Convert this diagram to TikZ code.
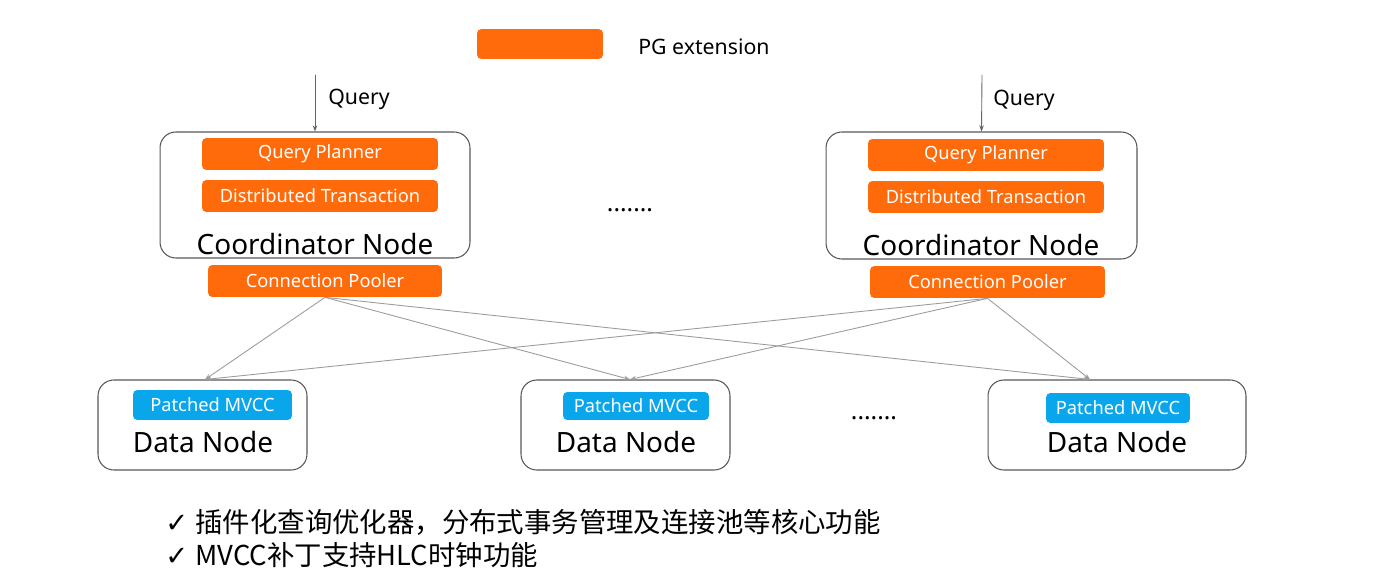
\documentclass[tikz,border=0pt]{standalone}
\usepackage{fontspec}
\setmainfont{Noto Sans}
\newfontfamily\cjk{Noto Sans CJK SC}
\newfontfamily\symb{DejaVu Sans}
\usepackage{xcolor}
\usetikzlibrary{arrows.meta,calc,positioning}
\definecolor{pgorange}{HTML}{FF6A0A}
\definecolor{mvblue}{HTML}{0AA6EC}
\definecolor{wire}{HTML}{9C9C9C}
\tikzset{
  ext/.style={rectangle, rounded corners=2.5pt, fill=pgorange, text=white, font=\fontsize{10.4}{12}\selectfont, inner sep=0pt},
  mvcc/.style={rectangle, rounded corners=2.5pt, fill=mvblue, text=white, font=\fontsize{10.4}{12}\selectfont, inner sep=0pt, minimum height=0.6cm},
  frame/.style={rectangle, rounded corners=9pt, draw=black!65, line width=0.6pt, fill=white},
  title/.style={font=\fontsize{15.9}{18}\selectfont, inner sep=0pt},
  lbl/.style={font=\fontsize{12.1}{14}\selectfont, inner sep=0pt, anchor=west},
  gap/.style={font=\fontsize{14}{16}\selectfont\bfseries, inner sep=0pt},
  link/.style={draw=wire, line width=0.5pt, -{Stealth[length=3.5pt,width=2.6pt]}},
  every picture/.style={line cap=round, line join=round}
}

\begin{document}
\begin{tikzpicture}[x=0.02cm,y=-0.02cm]
  \useasboundingbox (0,0) rectangle (1400,581);
  \fill[white] (0,0) rectangle (1400,581);

  % legend
  \node[ext, minimum width=2.52cm, minimum height=0.6cm] (key) at (540,44) {};
  \node[lbl] (keytext) at (638,47) {PG extension};

  % coordinators
  \node[frame, minimum width=6.2cm, minimum height=2.52cm] (cnL) at (315,195) {};
  \node[ext, minimum width=4.72cm, minimum height=0.64cm] (qpL) at (320,154) {Query Planner};
  \node[ext, minimum width=4.72cm, minimum height=0.64cm] (dtL) at (320,196) {Distributed Transaction};
  \node[title] (cnLt) at (315,244) {Coordinator Node};
  \node[ext, minimum width=4.68cm, minimum height=0.64cm] (cpL) at (325,281) {Connection Pooler};

  \node[frame, minimum width=6.22cm, minimum height=2.54cm] (cnR) at (981.5,195.5) {};
  \node[ext, minimum width=4.72cm, minimum height=0.64cm] (qpR) at (986,155) {Query Planner};
  \node[ext, minimum width=4.72cm, minimum height=0.64cm] (dtR) at (986,197) {Distributed Transaction};
  \node[title] (cnRt) at (981,245) {Coordinator Node};
  \node[ext, minimum width=4.7cm, minimum height=0.64cm] (cpR) at (987.5,282) {Connection Pooler};

  \coordinate (qinL) at (315,75);
  \coordinate (qinR) at (982,75);
  \draw[link, draw=black!60] (qinL) -- (cnL.north);
  \draw[link, draw=black!60] (qinR) -- (cnR.north);
  \node[lbl] (qlL) at (328,99) {Query};
  \node[lbl] (qlR) at (993,100) {Query};

  \node[gap] (gapC) at (630,210) {.......};

  % data nodes
  \node[frame, minimum width=4.18cm, minimum height=1.8cm] (dnA) at (202.5,425) {};
  \node[mvcc, minimum width=3.18cm] (mvA) at (212.5,405) {Patched MVCC};
  \node[title] (dnAt) at (203,442) {Data Node};

  \node[frame, minimum width=4.18cm, minimum height=1.8cm] (dnB) at (625.5,425) {};
  \node[mvcc, minimum width=2.92cm, minimum height=0.56cm] (mvB) at (636,406) {Patched MVCC};
  \node[title] (dnBt) at (626,442) {Data Node};

  \node[frame, minimum width=5.16cm, minimum height=1.8cm] (dnC) at (1117,425) {};
  \node[mvcc, minimum width=2.88cm] (mvC) at (1118,408) {Patched MVCC};
  \node[title] (dnCt) at (1117,442) {Data Node};

  \node[gap] (gapD) at (874,418) {.......};

  % pooler to data node links
  \foreach \src in {cpL,cpR}{
    \foreach \dst/\dx in {dnA/2.5,dnB/4.5,dnC/-27}{
      \draw[link] (\src.south) -- ($(\dst.north)+(\dx,0)$);
    }
  }

  % notes
  \node[lbl, font=\fontsize{15.6}{18}\selectfont] (noteA) at (165,522) {{\symb ✓} {\cjk 插件化查询优化器，分布式事务管理及连接池等核心功能}};
  \node[lbl, font=\fontsize{15.6}{18}\selectfont] (noteB) at (165,555) {{\symb ✓} {\cjk MVCC补丁支持HLC时钟功能}};
\end{tikzpicture}
\end{document}
